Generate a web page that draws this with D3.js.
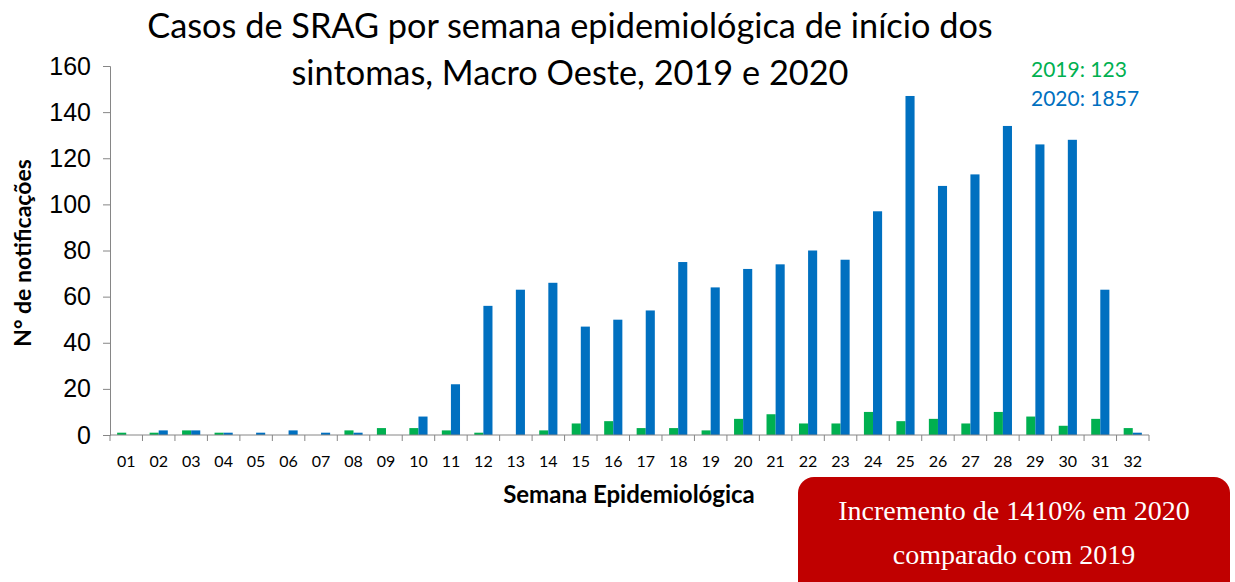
<!DOCTYPE html>
<html>
<head>
<meta charset="utf-8">
<script src="https://cdn.jsdelivr.net/npm/d3@7"></script>
<style>
  body { margin: 0; background: #fff; }
  svg { font-family: Lato, "Open Sans", sans-serif; }
</style>
</head>
<body>
<svg id="chart" width="1235" height="582"></svg>
<script>
const weeks = ["01","02","03","04","05","06","07","08","09","10","11","12","13","14","15","16",
               "17","18","19","20","21","22","23","24","25","26","27","28","29","30","31","32"];
const cases2019 = [1,1,2,1,0,0,0,2,3,3,2,1,0,2,5,6,3,3,2,7,9,5,5,10,6,7,5,10,8,4,7,3];
const cases2020 = [0,2,2,1,1,2,1,1,0,8,22,56,63,66,47,50,54,75,64,72,74,80,76,97,147,108,113,134,126,128,63,1];
const yTicks = [0,20,40,60,80,100,120,140,160];
const seriesNames = ["2019", "2020"];
const totals = ["2019: 123", "2020: 1857"];
const titleLines = ["Casos de SRAG por semana epidemiológica de início dos", "sintomas, Macro Oeste, 2019 e 2020"];
const noteLines = ["Incremento de 1410% em 2020", "comparado com 2019"];

const colors = { "2019": "#00B050", "2020": "#0070C0" };

const svg = d3.select("#chart");
const margin = { top: 66, right: 86, bottom: 147, left: 110 };
const width = +svg.attr("width") - margin.left - margin.right;
const height = +svg.attr("height") - margin.top - margin.bottom;

const g = svg.append("g").attr("transform", `translate(${margin.left},${margin.top})`);

const x = d3.scaleBand()
    .domain(weeks)
    .range([0, width])
    .paddingInner(0.44)
    .paddingOuter(0.22);

// full band step for axis ticks at boundaries
const step = x.step();
const xb = d3.scaleBand().domain(weeks).range([0, width]).padding(0);

const xs = d3.scaleBand()
    .domain(seriesNames)
    .range([0, x.bandwidth()]);

const y = d3.scaleLinear()
    .domain([0, 160])
    .range([height, 0]);

const rows = weeks.map((w, i) => ({ week: w, "2019": cases2019[i], "2020": cases2020[i] }));

// bars
const groups = g.selectAll(".week")
    .data(rows)
    .enter()
    .append("g")
    .attr("class", "week")
    .attr("transform", d => `translate(${xb(d.week) + (step - x.bandwidth()) / 2},0)`);

groups.selectAll("rect")
    .data(d => seriesNames.map(s => ({ key: s, value: d[s] })))
    .enter()
    .append("rect")
    .attr("x", d => xs(d.key))
    .attr("y", d => y(d.value))
    .attr("width", xs.bandwidth())
    .attr("height", d => y(0) - y(d.value))
    .attr("fill", d => colors[d.key]);

// y axis
const yAxis = g.append("g")
    .call(d3.axisLeft(y).tickValues(yTicks).tickSize(7).tickPadding(12));
yAxis.select(".domain").attr("stroke", "#868686");
yAxis.selectAll(".tick line").attr("stroke", "#868686");
yAxis.selectAll("text").attr("font-size", 25).attr("fill", "#000");

// x axis: line with ticks at category boundaries
const xAxis = g.append("g").attr("transform", `translate(0,${height})`);
xAxis.append("line")
    .attr("x1", 0).attr("x2", width)
    .attr("stroke", "#868686");
xAxis.selectAll(".xtick")
    .data(weeks.concat(["end"]))
    .enter()
    .append("line")
    .attr("x1", (d, i) => i * step)
    .attr("x2", (d, i) => i * step)
    .attr("y1", 0).attr("y2", 6)
    .attr("stroke", "#868686");
xAxis.selectAll(".xlabel")
    .data(weeks)
    .enter()
    .append("text")
    .attr("x", d => xb(d) + step / 2)
    .attr("y", 32)
    .attr("text-anchor", "middle")
    .attr("font-size", 16)
    .text(d => d);

// axis titles
svg.append("text")
    .attr("transform", "translate(31,253) rotate(-90)")
    .attr("text-anchor", "middle")
    .attr("font-size", 23)
    .attr("font-weight", "bold")
    .text("N° de notificações");

svg.append("text")
    .attr("x", 629)
    .attr("y", 503)
    .attr("text-anchor", "middle")
    .attr("font-size", 24)
    .attr("font-weight", "bold")
    .text("Semana Epidemiológica");

// title
svg.selectAll(".title")
    .data(titleLines)
    .enter()
    .append("text")
    .attr("x", 570)
    .attr("y", (d, i) => 38 + i * 47)
    .attr("text-anchor", "middle")
    .attr("font-size", 34.3)
    .text(d => d);

// totals
svg.selectAll(".total")
    .data(totals)
    .enter()
    .append("text")
    .attr("x", 1031)
    .attr("y", (d, i) => 77 + i * 29)
    .attr("font-size", 21)
    .attr("fill", (d, i) => colors[seriesNames[i]])
    .text(d => d);

// annotation box
svg.append("rect")
    .attr("x", 798).attr("y", 477)
    .attr("width", 432).attr("height", 130)
    .attr("rx", 16)
    .attr("fill", "#C00000");

svg.selectAll(".note")
    .data(noteLines)
    .enter()
    .append("text")
    .attr("x", 1014)
    .attr("y", (d, i) => 520 + i * 44)
    .attr("text-anchor", "middle")
    .attr("font-family", "'Liberation Serif', 'DejaVu Serif', serif")
    .attr("font-size", 28)
    .attr("fill", "#fff")
    .text(d => d);
</script>
</body>
</html>
